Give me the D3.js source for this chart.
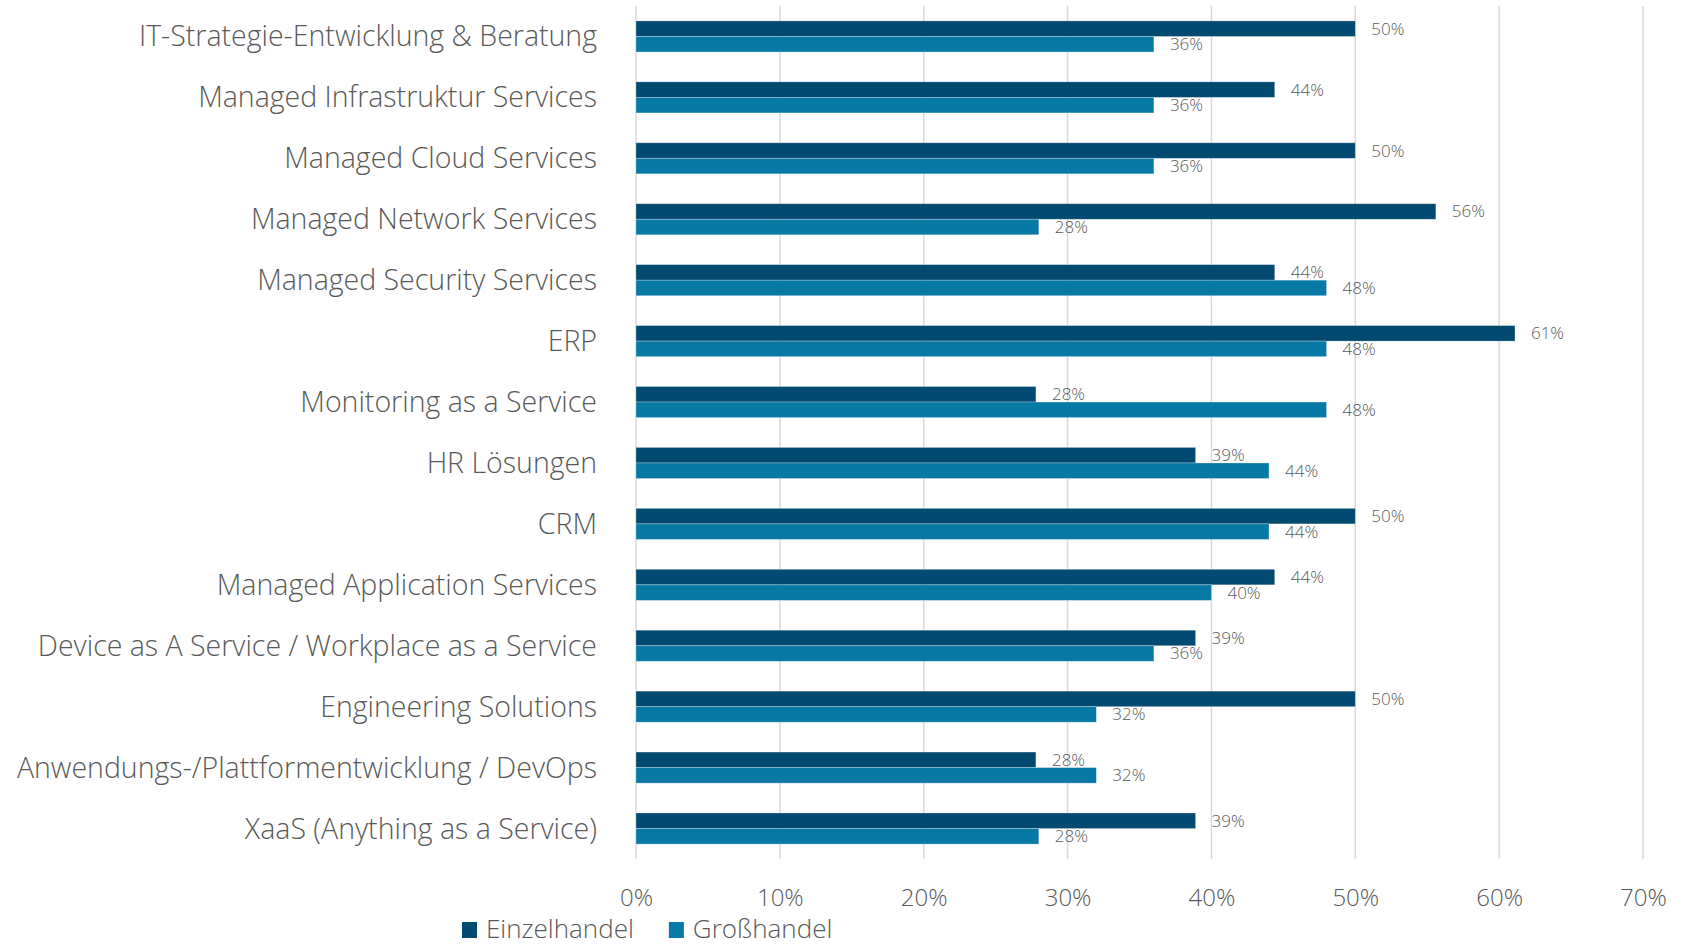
<!DOCTYPE html>
<html>
<head>
<meta charset="utf-8">
<script src="https://cdn.jsdelivr.net/npm/d3@7"></script>
<style>
  html, body { margin: 0; padding: 0; background: #fff; }
  svg text { font-family: "Open Sans", "Noto Sans", sans-serif; font-weight: 300; }
</style>
</head>
<body>
<div id="chart"></div>
<script>
// Kategorien (von oben nach unten)
var categories = [
    "IT-Strategie-Entwicklung & Beratung",
    "Managed Infrastruktur Services",
    "Managed Cloud Services",
    "Managed Network Services",
    "Managed Security Services",
    "ERP",
    "Monitoring as a Service",
    "HR Lösungen",
    "CRM",
    "Managed Application Services",
    "Device as A Service / Workplace as a Service",
    "Engineering Solutions",
    "Anwendungs-/Plattformentwicklung / DevOps",
    "XaaS (Anything as a Service)"
];
var seriesNames = ["Einzelhandel", "Großhandel"];
var einzelhandel = [0.500, 0.444, 0.500, 0.556, 0.444, 0.611, 0.278, 0.389, 0.500, 0.444, 0.389, 0.500, 0.278, 0.389];
var grosshandel  = [0.36, 0.36, 0.36, 0.28, 0.48, 0.48, 0.48, 0.44, 0.44, 0.40, 0.36, 0.32, 0.32, 0.28];
var xTicks = [0, 0.1, 0.2, 0.3, 0.4, 0.5, 0.6, 0.7];

var colors = ["#034a70", "#0879a5"];

var width = 1687, height = 949;
var margin = {left: 636, right: 44, top: 6, bottom: 90};

var svg = d3.select("#chart").append("svg")
    .attr("width", width)
    .attr("height", height);

var x = d3.scaleLinear().domain([0, 0.7]).range([margin.left, width - margin.right]);
var y = d3.scaleBand().domain(categories).range([margin.top, height - margin.bottom]).paddingInner(0.49).paddingOuter(0.245);
var ySub = d3.scaleBand().domain(seriesNames).range([0, y.bandwidth()]);

// Gitterlinien
svg.append("g").selectAll("line")
    .data(xTicks)
    .enter().append("line")
    .attr("x1", function (d) { return x(d); })
    .attr("x2", function (d) { return x(d); })
    .attr("y1", margin.top)
    .attr("y2", height - margin.bottom)
    .attr("stroke", "#d9d9d9")
    .attr("stroke-width", 1.5);

// x-Achse (nur Beschriftung)
var xAxis = svg.append("g")
    .attr("transform", "translate(0," + (height - margin.bottom) + ")")
    .call(d3.axisBottom(x).tickValues(xTicks).tickFormat(d3.format(".0%")).tickSize(0).tickPadding(30));
xAxis.select(".domain").remove();
xAxis.selectAll("text").attr("font-size", 24).attr("fill", "#595959")
    .style("font-family", '"Open Sans", sans-serif').style("font-weight", 300);

// Kategorie-Beschriftung
svg.append("g").selectAll("text")
    .data(categories)
    .enter().append("text")
    .attr("x", margin.left - 39)
    .attr("y", function (d) { return y(d) + y.bandwidth() / 2; })
    .attr("dy", "0.35em")
    .attr("text-anchor", "end")
    .attr("font-size", 28.5)
    .attr("fill", "#595959")
    .text(function (d) { return d; });

// Balken
var series = [einzelhandel, grosshandel];
series.forEach(function (vals, si) {
    var g = svg.append("g");
    g.selectAll("rect")
        .data(vals)
        .enter().append("rect")
        .attr("x", x(0))
        .attr("y", function (d, i) { return y(categories[i]) + ySub(seriesNames[si]); })
        .attr("width", function (d) { return x(d) - x(0); })
        .attr("height", ySub.bandwidth())
        .attr("fill", colors[si])
        .attr("stroke", "#ffffff")
        .attr("stroke-opacity", 0.35)
        .attr("stroke-width", 0.75);
    g.selectAll("text")
        .data(vals)
        .enter().append("text")
        .attr("x", function (d) { return x(d) + 16; })
        .attr("y", function (d, i) { return y(categories[i]) + ySub(seriesNames[si]) + ySub.bandwidth() / 2; })
        .attr("dy", "0.35em")
        .attr("font-size", 17)
        .attr("fill", "#595959")
        .text(function (d) { return Math.round(d * 100) + "%"; });
});

// Legende
var legend = svg.append("g").attr("transform", "translate(462," + 929 + ")");
var lx = 0;
seriesNames.forEach(function (name, i) {
    var item = legend.append("g").attr("transform", "translate(" + lx + ",0)");
    item.append("rect")
        .attr("x", 0).attr("y", -7)
        .attr("width", 15).attr("height", 16)
        .attr("fill", colors[i]);
    var t = item.append("text")
        .attr("x", 24).attr("y", 0)
        .attr("dy", "0.35em")
        .attr("font-size", 26)
        .attr("fill", "#595959")
        .text(name);
    lx += 24 + t.node().getComputedTextLength() + 35;
});
</script>
</body>
</html>
